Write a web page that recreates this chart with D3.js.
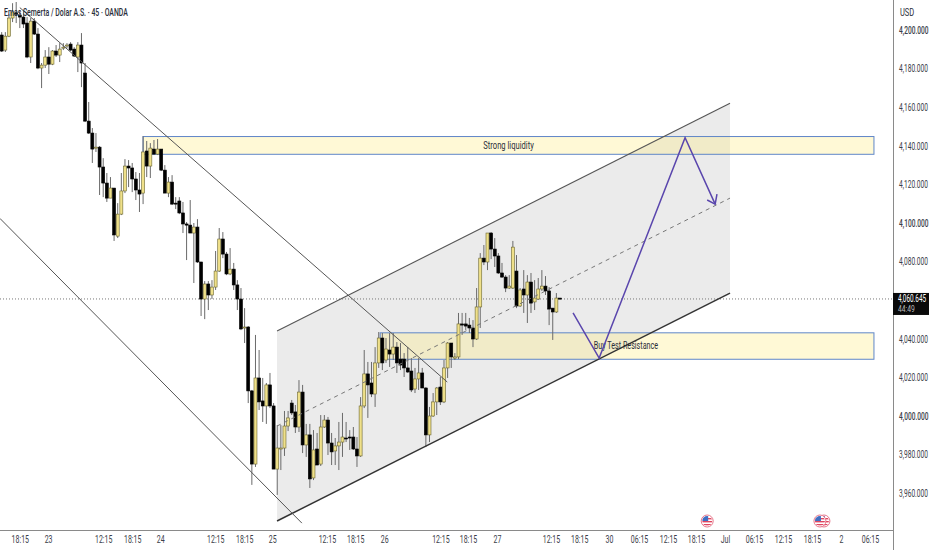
<!DOCTYPE html>
<html>
<head>
<meta charset="utf-8">
<script src="https://cdn.jsdelivr.net/npm/d3@7"></script>
<style>
body { margin:0; background:#fff; }
text { font-family:Roboto, sans-serif; fill:#2a2e39; }
</style>
</head>
<body>
<svg id="chart"></svg>
<script>
var screen2 = {width:932,height:550}
var plot = {right:893,bottom:530}

var lastPrice = 4060.645
var priceTicks = [3960,3980,4000,4020,4040,4080,4100,4120,4140,4160,4180,4200]
var timeBars = [5,12.8,28,36,43.7,58.9,66.9,74.6,89.7,97.5,105.5,121,128.6,136.6,151.5,159.3,167.5,175.8,183.8,191.5,199.5,207.5,215.5,223.5,231.5,239.5]
var timeLabels = ["18:15","23","12:15","18:15","24","12:15","18:15","25","12:15","18:15","26","12:15","18:15","27","12:15","18:15","30","06:15","12:15","18:15","Jul","06:15","12:15","18:15","2","06:15"]
var flagBars = [194.6,226.8,225.7]

var opens = [4197.4,4189.6,4196.8,4206.2,4208.8,4207.7,4206.7,4203.6,4186,4204.6,
4197.9,4180.3,4181.8,4186,4182.3,4189.1,4187,4190.6,4191.7,4192.7,
4190.1,4186,4192.2,4177.7,4152.8,4146.6,4138.8,4139.3,4129,4120.7,
4112.9,4118.1,4093.2,4104.6,4116.6,4129.5,4128.5,4122.8,4117.1,4115.5,
4137.3,4129.5,4138.3,4135.7,4138.3,4127.4,4115.5,4121.2,4110.3,4111.4,
4105.2,4099.5,4098.9,4094.8,4097.9,4079.8,4060.6,4068.4,4062.7,4066.8,
4075.1,4091.7,4083.9,4073.6,4076.1,4067.9,4060.6,4045.6,4046.1,4013,
3975.1,4019.7,4007.8,4005.2,4016.1,4005.2,3972.5,3982.9,3983.4,3994.8,
4006.7,4002.1,3994.3,4012.4,3985,3990.2,3967.9,3982.9,3975.1,3994.3,
3997.9,3986,3981.9,3984.5,3986.5,3988.6,3989.1,3989.1,3982.9,3979.3,
4005.2,4021.8,4017.1,4011.4,4027.5,4040.4,4029,4034.2,4032.1,4035.7,
4029.5,4029.5,4024.9,4023.3,4014,4019.2,4022.3,4014.5,3990.2,4000,
4007.3,4015,4007.3,4024.9,4037.8,4030,4030.6,4047.7,4047.7,4047.1,
4045.6,4039.9,4056.5,4081.8,4079.8,4094.8,4086.5,4082.9,4074.1,4072,
4066.3,4066.3,4075.1,4057,4065.8,4062.7,4069.4,4059.1,4060.6,4065.8,
4067.3,4064.8,4055.9,4053.9,4061.1]
var highs = [4198.9,4198.9,4208.2,4213.9,4214.5,4210.3,4210.3,4206.7,4206.2,4206.2,
4201,4182.9,4189.6,4191.1,4189.6,4192.2,4193.2,4193.2,4193.2,4193.7,
4191.1,4193.7,4198.4,4182.9,4162.7,4149.2,4146.6,4139.9,4133.6,4125.9,
4123.8,4118.1,4110.3,4125.9,4133.1,4132.6,4131.1,4126.4,4125.9,4145,
4142.5,4141.4,4143,4143.5,4138.3,4130,4123.8,4124.8,4113.4,4113.4,
4110.9,4100.5,4111.9,4100,4102,4079.8,4069.9,4069.9,4070.4,4085.5,
4097.4,4095.3,4085,4087,4079.3,4070.4,4066.3,4055.9,4046.6,4013.5,
4042,4034.2,4019.7,4017.1,4022.3,4006.7,3995.3,3995.3,4002.6,4002.6,
4008.3,4005.7,4018.6,4016.1,3995.9,3995.9,3992.7,3991.2,4000.5,4000.5,
3999.5,3991.2,3988.6,3996.9,4001.6,3996.9,3992.7,3994.3,3989.1,4009.8,
4034.2,4028,4028,4035.7,4043.5,4043,4040.4,4043,4043,4038.3,
4037.8,4032.6,4035.7,4030,4024.9,4030,4024.9,4015,4004.7,4011.9,
4015,4020.2,4029,4038.3,4037.8,4032.6,4053.4,4053.4,4053.4,4050.8,
4049.7,4066.3,4084.4,4088.6,4094.8,4095.3,4092.2,4084.4,4079.3,4073,
4073,4090.7,4083.4,4066.3,4075.6,4073,4074.1,4070.4,4071.5,4075.6,
4072.5,4066.8,4055.9,4063.7,4061.1]
var lows = [4188.6,4188.6,4196.3,4204.1,4203.6,4201,4201,4185.4,4182.9,4197.4,
4179.7,4169.9,4180.3,4177.2,4181.8,4186,4183.4,4189.6,4190.6,4189.1,
4186,4178.2,4170.4,4152.3,4146.1,4131.1,4136.8,4114.5,4113.4,4110.9,
4112.9,4090.7,4092.2,4104.1,4115.5,4118.6,4116,4111.9,4105.7,4109.8,
4123.8,4123.3,4135.2,4135.2,4126.9,4115.5,4113.4,4109.3,4107.2,4104.6,
4094.8,4080.8,4094.8,4068.9,4079.3,4051.8,4050.2,4054.9,4060.6,4065.3,
4074.6,4081.8,4073,4073,4065.3,4054.9,4044.5,4037.8,4006.7,3964.3,
3973.6,4003.1,3996.9,3995.9,4004.1,3972.5,3959.1,3972,3979.3,3992.2,
4000.5,3991.2,3991.7,3980.8,3978.8,3962.7,3966.8,3974.6,3974.1,3993.8,
3979.8,3974.6,3974.6,3972,3978.8,3986.5,3982.4,3982.4,3973.6,3978.8,
4004.1,3999,4009.8,4004.7,4024.9,4023.8,4027.5,4025.4,4029,4022.3,
4023.8,4020.2,4022.3,4012.4,4011.9,4013.5,4014.5,3983.9,3986.5,3999.5,
4000.5,4005.7,4006.7,4019.7,4024.9,4029,4029.5,4042,4044.5,4043,
4035.7,4039.4,4045.6,4078.2,4075.6,4081.3,4077.2,4073.6,4071.5,4064.2,
4065.8,4065.8,4055.9,4056.5,4053.4,4048.2,4053.4,4054.9,4060.1,4064.8,
4062.7,4047.1,4039.4,4053.4,4060.1]
var closes = [4189.1,4196.8,4206.2,4209.3,4208.2,4206.7,4203.1,4186,4204.6,4197.9,
4180.3,4181.8,4186,4182.3,4189.1,4187,4190.1,4191.1,4192.2,4189.6,
4186.5,4192.2,4182.9,4152.8,4146.6,4138.3,4139.3,4129,4120.7,4112.9,
4118.1,4093.8,4104.6,4116.6,4129.5,4128.5,4122.8,4117.1,4115,4136.8,
4129.5,4138.8,4135.7,4138.3,4127.4,4115.5,4121.2,4109.8,4109.8,4105.2,
4099.5,4098.9,4094.8,4097.9,4079.8,4060.6,4068.4,4062.7,4066.8,4075.1,
4091.7,4083.9,4073.6,4076.1,4067.9,4060.6,4045.1,4046.1,4013,3975.1,
4019.7,4007.3,4005.2,4016.1,4005.2,3972.5,3983.4,3983.4,3994.8,3999,
4001.6,3994.3,4012.4,3985,3990.2,3967.4,3982.4,3974.6,3994.3,3997.9,
3986,3981.4,3984.5,3986.5,3989.1,3988.1,3988.6,3982.9,3979.3,4005.2,
4021.8,4016.1,4011.4,4027.5,4040.4,4027.5,4034.7,4032.1,4035.7,4027.5,
4026.4,4024.9,4022.8,4013.5,4019.2,4022.3,4014.5,3990.2,4000,4007.3,
4014.5,4007.3,4024.9,4037.8,4030.6,4030.6,4047.7,4047.1,4046.6,4045.6,
4039.9,4056.5,4081.8,4079.8,4094.8,4086.5,4082.9,4074.1,4072,4066.3,
4067.3,4087.5,4057,4065.3,4062.7,4069.4,4058.5,4061.1,4065.8,4067.3,
4064.8,4055.4,4053.9,4061.1,4060.6]

// drawings, as [bar, price]
var channelTop = [[75.95,4044],[200.9,4162.1]]
var channelBottom = [[75.95,3945.6],[200.9,4063.7]]
var channelMid = [[75.95,3994.8],[200.9,4112.9]]
var fallLineA = [[5,4211.6],[122.9,4017.6]]
var fallLineB = [[-0.5,4102.4],[82.8,3944.5]]
var zoneBars = [39,104.4]
var zoneEndBar = 240.6
var zoneTop = [4144.8,4043.1]
var zoneBottom = [4135.6,4029.4]
var zoneNames = ["Strong liquidity","Buy Test Resistance"]
var zoneNameBars = [139.8,172.2]
var zoneNamePrices = [4139.8,4036.3]
var arrowPath = [[157.6,4053.4],[164.8,4030],[188.5,4144.2],[196.8,4109.8]]
var arrowHead = [[194.6,4111.9],[196.8,4109.8],[197.3,4115]]

var xScale = d3.scaleLinear().domain([0,154]).range([1.7,560])
var yScale = d3.scaleLinear().domain([3960,4200]).range([493.2,30])

var svg = d3.select("#chart")
    .attr("width",screen2.width)
    .attr("height",screen2.height)
    .style("display","block")

svg.append("defs").append("clipPath")
    .attr("id","plotClip")
    .append("rect")
    .attr("width",plot.right)
    .attr("height",plot.bottom)

// the chart's type is narrower than any installed font, so scale it about its own x
var squeeze = function(sel,k)
{
    sel.attr("transform",function()
    {
        var x = +this.getAttribute("x") || 0
        return "translate("+(x*(1-k))+",0) scale("+k+",1)"
    })
}

var pointLine = d3.line()
    .x(function(d){return xScale(d[0])})
    .y(function(d){return yScale(d[1])})

var graph = svg.append("g").attr("clip-path","url(#plotClip)")

// channel fill
graph.append("path")
    .attr("d",pointLine([channelTop[0],channelTop[1],channelBottom[1],channelBottom[0]])+"Z")
    .attr("fill","#ebebeb")

// zones
var zoneIndex = d3.range(zoneBars.length)
graph.selectAll(".zone")
    .data(zoneIndex)
    .enter()
    .append("rect")
    .attr("class","zone")
    .attr("x",function(i){return xScale(zoneBars[i])})
    .attr("y",function(i){return yScale(zoneTop[i])})
    .attr("width",function(i){return xScale(zoneEndBar)-xScale(zoneBars[i])})
    .attr("height",function(i){return yScale(zoneBottom[i])-yScale(zoneTop[i])})
    .attr("fill","#ffeb78")
    .attr("fill-opacity",0.3)
    .attr("stroke","#5f86c8")
    .attr("stroke-width",1)

// price line
graph.append("line")
    .attr("x1",0)
    .attr("x2",plot.right)
    .attr("y1",yScale(lastPrice))
    .attr("y2",yScale(lastPrice))
    .attr("stroke","#777")
    .attr("stroke-dasharray","1 2")

// candles
var bars = d3.range(opens.length)
graph.selectAll(".wick")
    .data(bars)
    .enter()
    .append("line")
    .attr("class","wick")
    .attr("x1",function(i){return xScale(i)})
    .attr("x2",function(i){return xScale(i)})
    .attr("y1",function(i){return yScale(highs[i])})
    .attr("y2",function(i){return yScale(lows[i])})
    .attr("stroke","#6a6a6a")
    .attr("stroke-width",1)

graph.selectAll(".body")
    .data(bars)
    .enter()
    .append("rect")
    .attr("class","body")
    .attr("x",function(i){return xScale(i)-1.5})
    .attr("width",3)
    .attr("y",function(i){return yScale(Math.max(opens[i],closes[i]))})
    .attr("height",function(i){return Math.max(1,Math.abs(yScale(opens[i])-yScale(closes[i])))})
    .attr("fill",function(i){return closes[i]>=opens[i] ? "#efe08a" : "#000"})
    .attr("stroke",function(i){return closes[i]>=opens[i] ? "#6b6630" : "#000"})
    .attr("stroke-width",0.6)

// trend lines
var lines = [channelTop,channelBottom,fallLineA,fallLineB]
var lineWidths = [1.1,1.5,1,1]
var lineColors = ["#555","#333","#555","#555"]
graph.selectAll(".trend")
    .data(lines)
    .enter()
    .append("path")
    .attr("class","trend")
    .attr("d",pointLine)
    .attr("fill","none")
    .attr("stroke",function(d,i){return lineColors[i]})
    .attr("stroke-width",function(d,i){return lineWidths[i]})

graph.append("path")
    .attr("d",pointLine(channelMid))
    .attr("fill","none")
    .attr("stroke","#777")
    .attr("stroke-dasharray","4 4")

// zone names
var zoneSqueeze = [0.76,0.72]
graph.selectAll(".zoneName")
    .data(zoneNames)
    .enter()
    .append("text")
    .attr("class","zoneName")
    .attr("x",function(d,i){return xScale(zoneNameBars[i])})
    .attr("y",function(d,i){return yScale(zoneNamePrices[i])})
    .attr("text-anchor","middle")
    .attr("dominant-baseline","middle")
    .attr("font-size",10)
    .text(function(d){return d})
    .each(function(d,i){squeeze(d3.select(this),zoneSqueeze[i])})

// projected path
graph.selectAll(".arrow")
    .data([arrowPath,arrowHead])
    .enter()
    .append("path")
    .attr("class","arrow")
    .attr("d",pointLine)
    .attr("fill","none")
    .attr("stroke","#5a46ad")
    .attr("stroke-width",1.5)

// flags
svg.append("defs").append("clipPath")
    .attr("id","flagClip")
    .append("circle")
    .attr("r",5)

var flags = svg.selectAll(".flag")
    .data(flagBars)
    .enter()
    .append("g")
    .attr("class","flag")
    .attr("transform",function(d){return "translate("+xScale(d)+",521)"})

flags.append("circle").attr("r",6).attr("fill","#fff").attr("stroke","#e8788c").attr("stroke-width",1)
var flagInner = flags.append("g").attr("clip-path","url(#flagClip)")
flagInner.append("rect").attr("x",-5).attr("y",-5).attr("width",10).attr("height",10).attr("fill","#fff")
flagInner.selectAll(".stripe")
    .data([-3,0,3])
    .enter()
    .append("rect")
    .attr("x",-5)
    .attr("width",10)
    .attr("y",function(d){return d})
    .attr("height",1.4)
    .attr("fill","#e0455f")
flagInner.append("rect").attr("x",-5).attr("y",-5).attr("width",6).attr("height",5).attr("fill","#3f6fc4")

// axes
var yAxis = d3.axisRight(yScale)
    .tickValues(priceTicks)
    .tickSize(0)
    .tickPadding(6)
    .tickFormat(d3.format(",.3f"))

var yGroup = svg.append("g")
    .attr("transform","translate("+plot.right+",0)")
    .call(yAxis)
yGroup.select(".domain").remove()
yGroup.selectAll("text")
    .attr("font-size",10)
    .attr("font-weight",function(d){return d%100==0 ? 500 : 400})
    .style("font-family","Roboto, sans-serif")
    .style("fill","#3a3e49")
    .call(squeeze,0.66)

var xAxis = d3.axisBottom(xScale)
    .tickValues(timeBars)
    .tickSize(0)
    .tickPadding(6)
    .tickFormat(function(d,i){return timeLabels[i]})

var xGroup = svg.append("g")
    .attr("transform","translate(0,"+plot.bottom+")")
    .call(xAxis)
xGroup.select(".domain").remove()
xGroup.selectAll("text")
    .attr("font-size",10)
    .style("font-family","Roboto, sans-serif")
    .style("fill","#3a3e49")
    .call(squeeze,0.7)

svg.append("line")
    .attr("x1",0).attr("x2",plot.right)
    .attr("y1",plot.bottom+0.5).attr("y2",plot.bottom+0.5)
    .attr("stroke","#8a8a8a")
svg.append("line")
    .attr("x1",plot.right+0.5).attr("x2",plot.right+0.5)
    .attr("y1",0).attr("y2",screen2.height)
    .attr("stroke","#8a8a8a")

// last price label
svg.append("rect")
    .attr("x",plot.right)
    .attr("y",yScale(lastPrice)-6)
    .attr("width",36)
    .attr("height",22)
    .attr("fill","#0a0a0a")
svg.append("text")
    .attr("x",plot.right+5)
    .attr("y",yScale(lastPrice)+3)
    .attr("font-size",10)
    .style("fill","#fff")
    .text(d3.format(",.3f")(lastPrice))
    .call(squeeze,0.64)
svg.append("text")
    .attr("x",plot.right+5)
    .attr("y",yScale(lastPrice)+13)
    .attr("font-size",9)
    .style("fill","#bbb")
    .text("44:49")
    .call(squeeze,0.75)

svg.append("text")
    .attr("x",900)
    .attr("y",16)
    .attr("font-size",10)
    .text("USD")
    .call(squeeze,0.75)

svg.append("text")
    .attr("x",4)
    .attr("y",16)
    .attr("font-size",10.5)
    .attr("font-weight",500)
    .text("Emas Semerta / Dolar A.S. · 45 · OANDA")
    .call(squeeze,0.66)
</script>
</body>
</html>
